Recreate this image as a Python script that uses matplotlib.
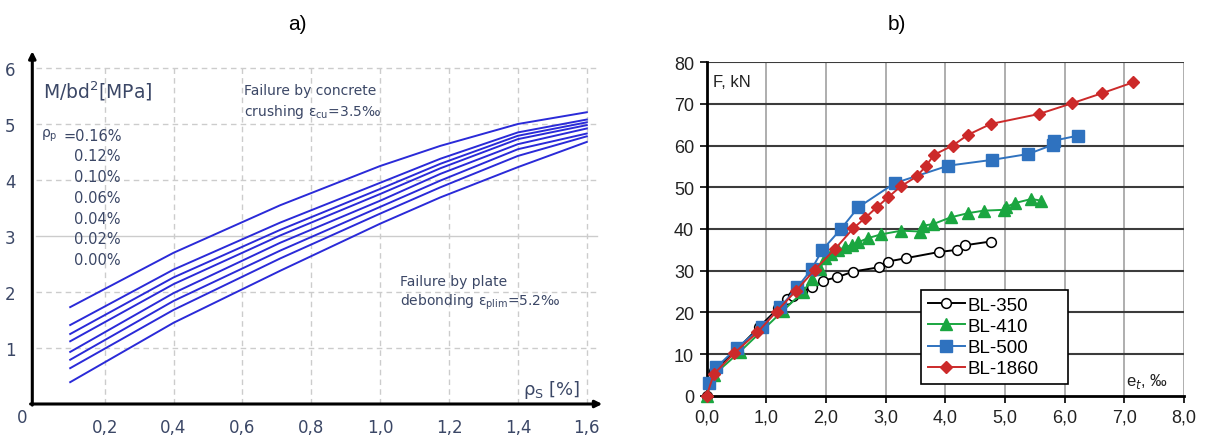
import matplotlib
matplotlib.use("Agg")
import matplotlib.pyplot as plt
import numpy as np

# ---------------- data: panel a ----------------
rho_s = [0.1, 0.4, 0.71, 1.0, 1.175, 1.4, 1.6]
curve_016 = [1.73, 2.70, 3.55, 4.25, 4.61, 5.00, 5.21]
curve_012 = [1.41, 2.40, 3.24, 3.95, 4.38, 4.85, 5.08]
curve_010 = [1.25, 2.26, 3.11, 3.84, 4.29, 4.79, 5.03]
curve_006 = [1.12, 2.14, 3.01, 3.75, 4.21, 4.73, 4.98]
curve_004 = [0.93, 1.98, 2.88, 3.63, 4.11, 4.64, 4.92]
curve_002 = [0.79, 1.84, 2.74, 3.52, 3.99, 4.55, 4.83]
curve_000 = [0.64, 1.68, 2.60, 3.40, 3.87, 4.43, 4.78]
curve_low = [0.39, 1.45, 2.38, 3.22, 3.69, 4.23, 4.68]
rho_p_labels = ["=0.16%", "0.12%", "0.10%", "0.06%", "0.04%", "0.02%", "0.00%"]
a_xticks = [0.2, 0.4, 0.6, 0.8, 1.0, 1.2, 1.4, 1.6]
a_xticklabels = ["0,2", "0,4", "0,6", "0,8", "1,0", "1,2", "1,4", "1,6"]
a_yticks = [1, 2, 3, 4, 5, 6]

# ---------------- data: panel b ----------------
bl350_x = [0, 0.12, 0.5, 0.88, 1.2, 1.34, 1.45, 1.6, 1.76, 1.95, 2.18, 2.46, 2.88, 3.04, 3.34, 3.90, 4.20, 4.33, 4.76]
bl350_y = [0, 6, 11, 16.5, 21, 23.2, 24, 25, 26, 27.6, 28.4, 29.8, 30.8, 32.2, 33, 34.5, 35, 36.1, 37]
bl410_x = [0, 0.12, 0.56, 1.28, 1.62, 1.76, 1.90, 1.98, 2.09, 2.20, 2.32, 2.43, 2.54, 2.70, 2.92, 3.26, 3.57, 3.63, 3.80, 4.09, 4.38, 4.64, 4.98, 5.01, 5.16, 5.44, 5.61]
bl410_y = [0, 5, 10.6, 20.4, 25, 28, 30.4, 33, 34, 35, 35.6, 36.2, 36.8, 37.8, 38.7, 39.6, 39.4, 40.8, 41.2, 42.8, 43.8, 44.4, 44.6, 45.2, 46.2, 47.2, 46.8]
bl500_x = [0.04, 0.16, 0.50, 0.92, 1.23, 1.52, 1.76, 1.94, 2.25, 2.54, 3.15, 4.05, 4.79, 5.39, 5.80, 5.82, 6.22]
bl500_y = [3.0, 6.8, 11.4, 16.4, 21.2, 26.0, 30.4, 35.0, 40.0, 45.2, 51.0, 55.2, 56.6, 58.0, 60.2, 61.2, 62.4]
bl1860_x = [0, 0.12, 0.46, 0.85, 1.17, 1.50, 1.81, 2.15, 2.46, 2.65, 2.85, 3.04, 3.25, 3.52, 3.68, 3.81, 4.12, 4.38, 4.76, 5.57, 6.13, 6.63, 7.15]
bl1860_y = [0, 5.2, 10.2, 15.2, 20.2, 25.2, 30.2, 35.2, 40.2, 42.6, 45.2, 47.6, 50.2, 52.6, 55.2, 57.8, 60.0, 62.6, 65.2, 67.6, 70.2, 72.6, 75.2]
series_names = ["BL-350", "BL-410", "BL-500", "BL-1860"]
b_xticks = [0, 1, 2, 3, 4, 5, 6, 7, 8]
b_xticklabels = ["0,0", "1,0", "2,0", "3,0", "4,0", "5,0", "6,0", "7,0", "8,0"]
b_yticks = [0, 10, 20, 30, 40, 50, 60, 70, 80]

W, H = 1210, 439
fig = plt.figure(figsize=(W / 100, H / 100), dpi=100)

# ================= panel a =================
tc = "#3b4766"
afont = "DejaVu Sans"
axa = fig.add_axes([32.3 / W, 34 / H, 570 / W, 352.8 / H])
axa.set_xlim(-0.01, 1.645)
axa.set_ylim(0, 6.3)
for s in axa.spines.values():
    s.set_visible(False)

# grid
for gx in a_xticks:
    axa.plot([gx, gx], [0, 6.0], color="#cccccc", lw=1.0, ls=(0, (4, 3)), zorder=1)
for gy in a_yticks:
    ls = "-" if gy == 3 else (0, (4, 3))
    axa.plot([0, 1.63], [gy, gy], color="#cccccc", lw=1.0, ls=ls, zorder=1)

# axes with arrows
axa.annotate("", xy=(-0.01, 6.3), xytext=(-0.01, -0.02),
             arrowprops=dict(arrowstyle="-|>", color="black", lw=2.2, mutation_scale=10,
                             shrinkA=0, shrinkB=0), annotation_clip=False)
axa.annotate("", xy=(1.645, 0), xytext=(-0.015, 0),
             arrowprops=dict(arrowstyle="-|>", color="black", lw=2.2, mutation_scale=10,
                             shrinkA=0, shrinkB=0), annotation_clip=False)

for c in [curve_016, curve_012, curve_010, curve_006, curve_004, curve_002, curve_000, curve_low]:
    axa.plot(rho_s, c, color="#2a2ad8", lw=1.4, zorder=3)

axa.set_xticks(a_xticks)
axa.set_xticklabels(a_xticklabels, fontsize=12, color=tc, family=afont)
axa.set_yticks(a_yticks)
axa.set_yticklabels([str(v) for v in a_yticks], fontsize=12, color=tc, family=afont)
axa.tick_params(axis="x", length=0, pad=10)
axa.tick_params(axis="y", length=0, pad=12)
axa.text(-0.039, -0.23, "0", fontsize=12, color=tc, family=afont, ha="center", va="center", clip_on=False)

axa.text(0.02, 5.6, "M/bd$^2$[MPa]", fontsize=13.5, color=tc, family=afont, ha="left", va="center")
axa.text(0.015, 4.8, "ρ$_\\mathregular{p}$", fontsize=10, color=tc, family=afont, ha="left", va="center")
for i, lab in enumerate(rho_p_labels):
    axa.text(0.11 if i else 0.08, 4.8 - i * 0.37, lab, fontsize=10.5, color=tc, family=afont,
             ha="left", va="center")
axa.text(0.605, 5.6, "Failure by concrete", fontsize=10, color=tc, family=afont, ha="left", va="center")
axa.text(0.605, 5.24, "crushing ε$_\\mathregular{cu}$=3.5‰", fontsize=10, color=tc, family=afont, ha="left", va="center")
axa.text(1.058, 2.2, "Failure by plate", fontsize=10, color=tc, family=afont, ha="left", va="center")
axa.text(1.058, 1.83, "debonding ε$_\\mathregular{plim}$=5.2‰", fontsize=10, color=tc, family=afont, ha="left", va="center")
axa.text(1.415, 0.27, "ρ$_\\mathregular{S}$ [%]", fontsize=13, color=tc, family=afont, ha="left", va="center")

# ================= panel b =================
bfont = "Liberation Sans"
axb = fig.add_axes([706.7 / W, 42.3 / H, 477.3 / W, 333.4 / H])
axb.set_xlim(0, 8)
axb.set_ylim(0, 80)
for sp in ["top", "right"]:
    axb.spines[sp].set_visible(False)
axb.spines["left"].set_linewidth(2.0)
axb.spines["bottom"].set_linewidth(2.0)
axb.spines["left"].set_zorder(4)
axb.spines["bottom"].set_zorder(4)
for gx in b_xticks[1:]:
    axb.axvline(gx, color="#a8a8a8", lw=1.3, zorder=1)
for gy in b_yticks[1:]:
    axb.axhline(gy, color="#3c3c3c", lw=1.5, zorder=1)

axb.plot(bl350_x, bl350_y, color="black", lw=1.4, marker="o", ms=7, mfc="white", mec="black",
         mew=1.1, label=series_names[0], zorder=5, clip_on=False)
axb.plot(bl410_x, bl410_y, color="#1aa640", lw=1.4, marker="^", ms=8, mfc="#1aa640", mec="#1aa640",
         label=series_names[1], zorder=6, clip_on=False)
axb.plot(bl500_x, bl500_y, color="#2f72bf", lw=1.4, marker="s", ms=8.5, mfc="#2f72bf", mec="#2f72bf",
         label=series_names[2], zorder=7, clip_on=False)
axb.plot(bl1860_x, bl1860_y, color="#cc2a2a", lw=1.4, marker="D", ms=6, mfc="#cc2a2a", mec="#cc2a2a",
         label=series_names[3], zorder=8, clip_on=False)

axb.set_xticks(b_xticks)
axb.set_xticklabels(b_xticklabels, fontsize=13, family=bfont, color="#222222")
axb.set_yticks(b_yticks)
axb.set_yticklabels([str(v) for v in b_yticks], fontsize=13, family=bfont, color="#222222")
axb.tick_params(axis="both", direction="out", length=5, width=1.2, color="black")
axb.tick_params(axis="x", pad=4)
axb.tick_params(axis="y", pad=4)

leg = axb.legend(loc="lower left", bbox_to_anchor=(0.45, 0.035, 0.306, 0.2925), mode="expand",
                 prop={"family": bfont, "size": 13.5}, frameon=True, fancybox=False,
                 edgecolor="black", framealpha=1, handlelength=1.95, handletextpad=0.15,
                 labelspacing=0.22, borderpad=0.35, borderaxespad=0)
leg.get_frame().set_linewidth(1.2)
leg.set_zorder(10)
# shift legend contents to match the wider reference padding
leg._legend_box.align = "center"

axb.text(0.1, 75.3, "F, kN", fontsize=12, family=bfont, color="#222222", ha="left", va="center")
axb.text(7.03, 3.7, "e$_t$, ‰", fontsize=12, family=bfont, color="#222222", ha="left", va="center")

# panel titles
fig.text(297 / W, 1 - 25 / H, "a)", fontsize=15, family=bfont, ha="center", va="center")
fig.text(897 / W, 1 - 25 / H, "b)", fontsize=15, family=bfont, ha="center", va="center")

fig.savefig("out.png", dpi=100)
